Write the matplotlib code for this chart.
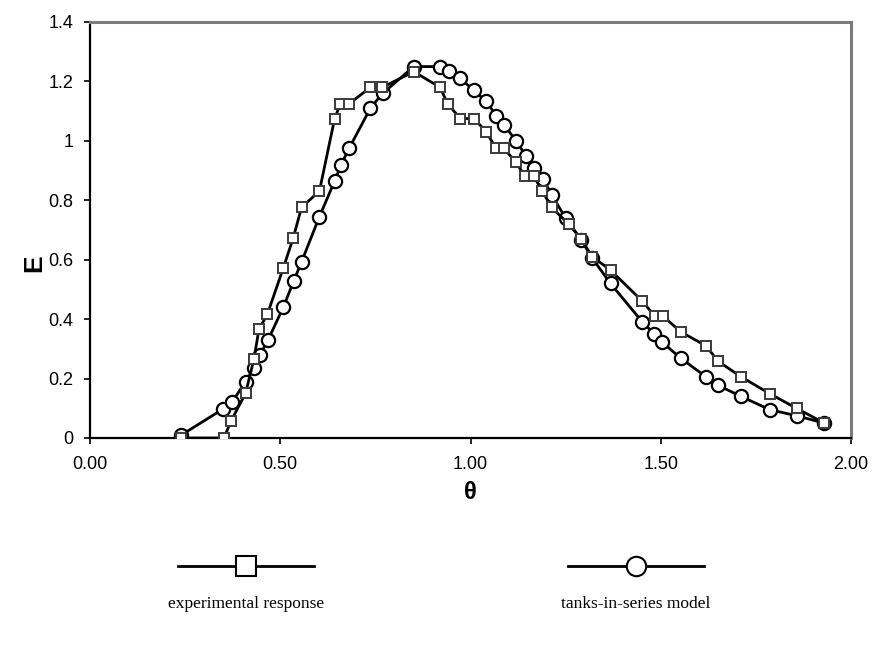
import matplotlib
matplotlib.use("Agg")
import matplotlib.pyplot as plt
from matplotlib.lines import Line2D
from matplotlib.ticker import FormatStrFormatter, FuncFormatter

# experimental response (squares)
theta_exp = [0.24, 0.352, 0.371, 0.409, 0.431, 0.444, 0.466, 0.508, 0.534, 0.556,
             0.603, 0.643, 0.658, 0.681, 0.737, 0.768, 0.851, 0.92, 0.94, 0.973,
             1.009, 1.041, 1.067, 1.088, 1.119, 1.144, 1.166, 1.189, 1.213, 1.259,
             1.29, 1.32, 1.368, 1.452, 1.484, 1.506, 1.553, 1.619, 1.651, 1.711,
             1.788, 1.857, 1.93]
e_exp = [0.0, 0.0, 0.058, 0.151, 0.266, 0.366, 0.416, 0.572, 0.673, 0.776,
         0.831, 1.075, 1.125, 1.125, 1.18, 1.18, 1.233, 1.18, 1.125, 1.075,
         1.075, 1.031, 0.975, 0.975, 0.928, 0.881, 0.881, 0.831, 0.776, 0.719,
         0.671, 0.61, 0.565, 0.46, 0.41, 0.41, 0.357, 0.31, 0.258, 0.206,
         0.148, 0.1, 0.05]

# tanks-in-series model (circles)
theta_tis = [0.24, 0.35, 0.373, 0.409, 0.431, 0.447, 0.468, 0.508, 0.536, 0.556,
             0.603, 0.643, 0.66, 0.681, 0.737, 0.769, 0.851, 0.92, 0.943, 0.973,
             1.009, 1.041, 1.068, 1.089, 1.12, 1.146, 1.168, 1.191, 1.214, 1.25,
             1.291, 1.32, 1.368, 1.452, 1.483, 1.504, 1.553, 1.619, 1.651, 1.711,
             1.787, 1.857, 1.93]
e_tis = [0.01, 0.098, 0.12, 0.19, 0.235, 0.28, 0.33, 0.44, 0.53, 0.593,
         0.745, 0.865, 0.92, 0.975, 1.11, 1.16, 1.25, 1.25, 1.235, 1.21,
         1.17, 1.133, 1.085, 1.052, 1.0, 0.948, 0.91, 0.872, 0.817, 0.74,
         0.667, 0.605, 0.52, 0.39, 0.35, 0.322, 0.268, 0.206, 0.177, 0.14,
         0.095, 0.075, 0.05]

x_ticks = [0.0, 0.5, 1.0, 1.5, 2.0]
y_ticks = [0, 0.2, 0.4, 0.6, 0.8, 1.0, 1.2, 1.4]
legend_labels = ["experimental response", "tanks-in-series model"]

plt.rcParams["font.family"] = ["Liberation Sans", "DejaVu Sans"]

W, H = 875, 649
fig = plt.figure(figsize=(W / 100, H / 100), dpi=100)
ax = fig.add_axes([90 / W, 1 - 438 / H, 761 / W, 416 / H])

ax.plot(theta_exp, e_exp, color="black", lw=2, marker="s", ms=7,
        mfc="white", mec="#3a3a3a", mew=1.4, zorder=3)
ax.plot(theta_tis, e_tis, color="black", lw=2, marker="o", ms=9.5,
        mfc="white", mec="black", mew=1.6, zorder=2)

ax.set_xlim(0, 2.0)
ax.set_ylim(0, 1.4)
ax.set_xticks(x_ticks)
ax.set_yticks(y_ticks)
ax.xaxis.set_major_formatter(FormatStrFormatter("%.2f"))
ax.yaxis.set_major_formatter(FuncFormatter(lambda v, p: f"{v:g}"))
ax.tick_params(axis="both", direction="out", length=4, width=1.2,
               labelsize=13, color="black")
ax.tick_params(axis="x", pad=9)
ax.tick_params(axis="y", pad=8)

for side in ["top", "right"]:
    ax.spines[side].set_color("#7a7a7a")
    ax.spines[side].set_linewidth(2.2)
for side in ["left", "bottom"]:
    ax.spines[side].set_color("black")
    ax.spines[side].set_linewidth(1.6)

ax.set_xlabel("θ", fontsize=17, fontweight="bold", labelpad=6)
ax.set_ylabel("E", fontsize=19, fontweight="bold", rotation=90)
ax.yaxis.set_label_coords(-44 / 761, 0.42)

# legend drawn below the plot
legend_x = [246 / W, 636 / W]
legend_markers = ["s", "o"]
for lx, mk, lab in zip(legend_x, legend_markers, legend_labels):
    y0 = 1 - 566 / H
    fig.add_artist(Line2D([lx - 68 / W, lx + 68 / W], [y0, y0],
                          transform=fig.transFigure, color="black", lw=2))
    fig.add_artist(Line2D([lx], [y0], transform=fig.transFigure,
                          marker=mk, ms=14, mfc="white", mec="black",
                          mew=1.5, color="black"))
    fig.text(lx, 1 - 604 / H, lab, ha="center", va="center", fontsize=12.5,
             family=["Liberation Serif", "DejaVu Serif"])

fig.savefig("out.png", dpi=100)
